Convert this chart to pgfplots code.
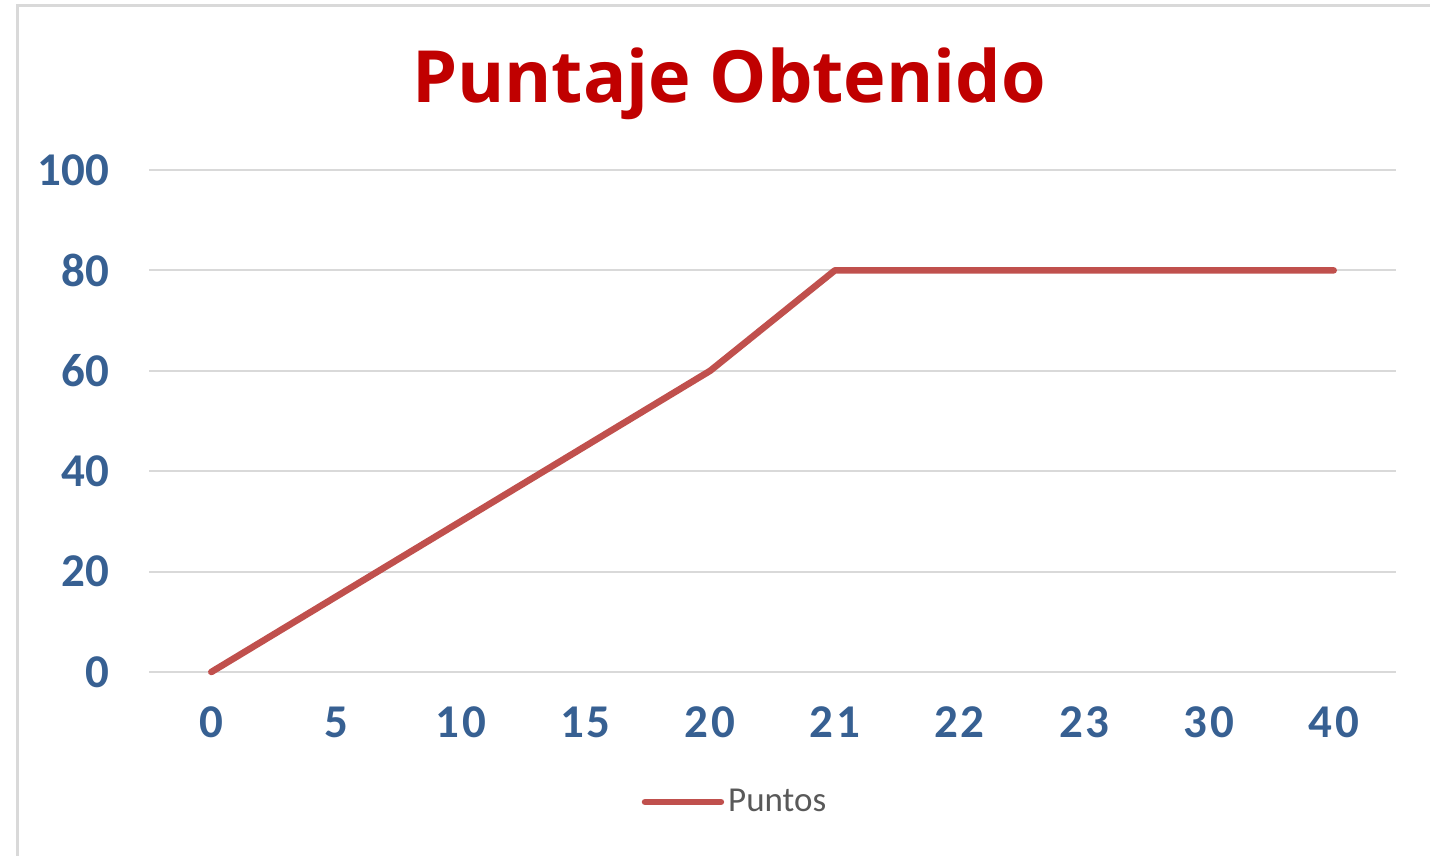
\documentclass[border=0pt]{standalone}
\usepackage{fontspec}
\setmainfont{Carlito}
\newfontfamily\titlefont{Open Sans}
\newfontfamily\xfont[LetterSpace=6]{Carlito}
\usepackage{pgfplots}
\pgfplotsset{compat=1.18}
\definecolor{linered}{HTML}{C0504D}
\definecolor{titlered}{HTML}{C00000}
\definecolor{tickblue}{HTML}{376092}
\definecolor{gridgray}{HTML}{D9D9D9}
\definecolor{legendgray}{HTML}{595959}
\begin{document}
\begin{tikzpicture}
\useasboundingbox (0pt,0pt) rectangle (715pt,428pt);
\draw[gridgray, line width=1.5pt] (8.5pt,-10pt) -- (8.5pt,425pt) -- (730pt,425pt);
\node[titlered, font=\titlefont\bfseries\fontsize{36}{40}\selectfont] at (364.5pt,386pt) {Puntaje Obtenido};
\begin{axis}[
  at={(74.5pt,92pt)}, anchor=south west,
  scale only axis, width=623.5pt, height=251pt,
  xmin=-0.5, xmax=9.5, ymin=0, ymax=100,
  xtick={0,...,9},
  xticklabels={0,5,10,15,20,21,22,23,30,40},
  ytick={0,20,...,100},
  axis line style={draw=none},
  major tick length=0pt,
  ymajorgrids, grid style={gridgray, line width=1pt},
  xticklabel style={font=\xfont\bfseries\fontsize{23.5}{26}\selectfont, text=tickblue, yshift=-14pt},
  yticklabel style={font=\bfseries\fontsize{23.5}{26}\selectfont, text=tickblue, xshift=-16.5pt},
  /pgf/number format/assume math mode=true,
  legend style={at={(293.5pt,-65pt)}, anchor=center, draw=none, fill=none,
    font=\fontsize{17.5}{20}\selectfont, text=legendgray},
  legend image code/.code={\draw[#1, line width=3.2pt, line cap=round] (0pt,0pt) -- (38pt,0pt);},
  clip=false,
]
\addplot[linered, line width=3.3pt, line cap=round, line join=round] coordinates {
(0,0) (1,15) (2,30) (3,45) (4,60) (5,80) (6,80) (7,80) (8,80) (9,80)};
\addlegendentry{Puntos}
\end{axis}
\end{tikzpicture}
\end{document}
